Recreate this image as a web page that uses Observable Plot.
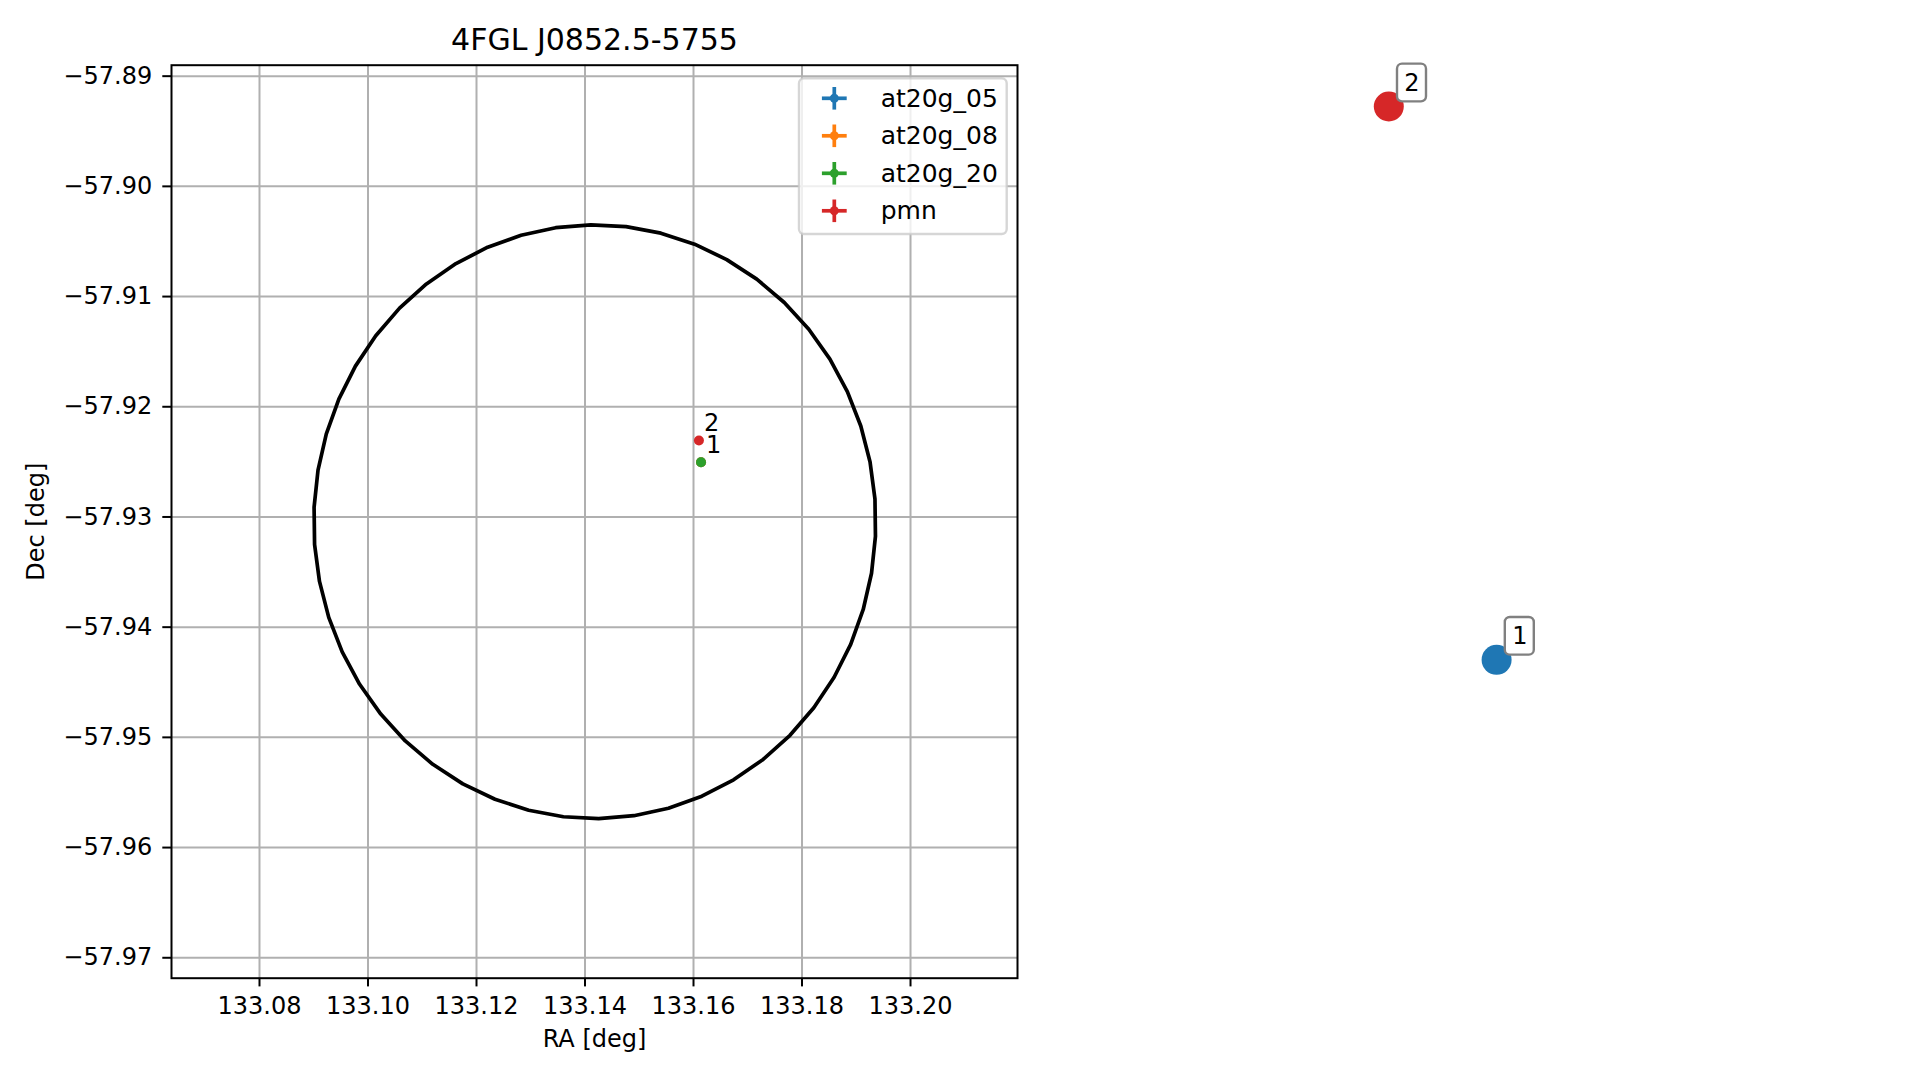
<!DOCTYPE html>
<html>
<head>
<meta charset="utf-8">
<script src="https://cdn.jsdelivr.net/npm/d3@7"></script>
<script src="https://cdn.jsdelivr.net/npm/@observablehq/plot@0.6"></script>
<style>
  html, body { margin: 0; padding: 0; background: #ffffff; }
  #wrap { position: relative; width: 1919px; height: 1080px; overflow: hidden; font-family: "DejaVu Sans", sans-serif; }
  #left { position: absolute; left: 0; top: 0; }
  #right { position: absolute; left: 1150px; top: 0; }
  #legend { position: absolute; left: 0; top: 0; pointer-events: none; }
  svg [aria-label="x-axis tick"], svg [aria-label="y-axis tick"] { stroke-width: 2px; }
  svg .tick line { stroke-width: 2px; }
</style>
</head>
<body>
<div id="wrap">
  <div id="left"></div>
  <div id="right"></div>
  <svg id="legend" width="1919" height="1080"></svg>
</div>
<script>
// ---- data ----
const title = "4FGL J0852.5-5755";
const xLabel = "RA [deg]";
const yLabel = "Dec [deg]";

const sources = ["at20g_05", "at20g_08", "at20g_20", "pmn"];
const sourceRA = [133.161385, 133.161385, 133.161385, 133.16100];
const sourceDec = [-57.925036, -57.925036, -57.925036, -57.92306];
const sourceColors = ["#1f77b4", "#ff7f0e", "#2ca02c", "#d62728"];

// counterpart labels (1 = AT20G source, 2 = PMN source)
const counterpartIds = ["1", "2"];
const counterpartSource = ["at20g_05", "pmn"];
const counterpartRA = [133.161385, 133.16100];
const counterpartDec = [-57.925036, -57.92306];

// 4FGL localisation ellipse: centre, semi-axes (deg), polygon segments
const ellipseCenter = [133.1418, -57.93043];
const ellipseRadii = [0.0518, 0.02694];
const ellipseSegments = 50;
const ellipsePhaseDeg = 4.4;

const xTicks = [133.08, 133.10, 133.12, 133.14, 133.16, 133.18, 133.20];
const yTicks = [-57.89, -57.90, -57.91, -57.92, -57.93, -57.94, -57.95, -57.96, -57.97];

// ---- tables built from the arrays ----
const points = sources.map((s, i) => ({source: s, ra: sourceRA[i], dec: sourceDec[i]}));
const labels = counterpartIds.map((id, i) => ({id, source: counterpartSource[i], ra: counterpartRA[i], dec: counterpartDec[i]}));
const ellipse = d3.range(ellipseSegments + 1).map(k => {
  const t = (ellipsePhaseDeg * Math.PI / 180) + 2 * Math.PI * k / ellipseSegments;
  return {ra: ellipseCenter[0] + ellipseRadii[0] * Math.cos(t), dec: ellipseCenter[1] + ellipseRadii[1] * Math.sin(t)};
});

const font = "DejaVu Sans";

const leftPlot = Plot.plot({
  width: 1100,
  height: 1080,
  marginLeft: 171,
  marginRight: 83,
  marginTop: 64.7,
  marginBottom: 102.3,
  style: {fontFamily: font, fontSize: "24px", background: "transparent", color: "black"},
  x: {domain: [133.06378, 133.21972], ticks: xTicks, tickFormat: ".2f", tickSize: 8.7, tickPadding: 10.2, label: null},
  y: {domain: [-57.971854, -57.889005], ticks: yTicks, tickFormat: ".2f", tickSize: 8.7, tickPadding: 10.6, label: null},
  color: {domain: sources, range: sourceColors},
  marks: [
    Plot.ruleX(xTicks, {stroke: "#b0b0b0", strokeWidth: 2}),
    Plot.ruleY(yTicks, {stroke: "#b0b0b0", strokeWidth: 2}),
    Plot.line(ellipse, {x: "ra", y: "dec", stroke: "black", strokeWidth: 3.7, strokeLinejoin: "round"}),
    Plot.dot(points, {x: "ra", y: "dec", r: 5, fill: "source"}),
    Plot.text(labels, {x: "ra", y: "dec", text: "id", textAnchor: "start", lineAnchor: "bottom", dx: 5, dy: -9.5, fontSize: 24, fill: "black"}),
    Plot.frame({stroke: "black", strokeWidth: 2}),
    Plot.text([title], {text: d => d, frameAnchor: "top", lineAnchor: "bottom", dy: -15.4, fontSize: 30, fill: "black"}),
    Plot.text([xLabel], {text: d => d, frameAnchor: "bottom", lineAnchor: "bottom", dy: 69, fontSize: 24, fill: "black"}),
    Plot.text([yLabel], {text: d => d, frameAnchor: "left", textAnchor: "middle", lineAnchor: "bottom", rotate: -90, dx: -128, fontSize: 24, fill: "black"})
  ]
});
document.getElementById("left").appendChild(leftPlot);

const rightPlot = Plot.plot({
  width: 600,
  height: 1080,
  marginLeft: 0,
  marginRight: 0,
  marginTop: 65,
  marginBottom: 103,
  style: {fontFamily: font, fontSize: "24px", background: "transparent", color: "black"},
  x: {domain: [133.16014893, 133.16229179], axis: null},
  y: {domain: [-57.92617071, -57.92291357], axis: null},
  color: {domain: sources, range: sourceColors},
  marks: [
    Plot.dot(labels, {x: "ra", y: "dec", r: 15, fill: "source"}),
    Plot.rect(labels, {x1: "ra", x2: "ra", y1: "dec", y2: "dec", insetLeft: 8.7, insetRight: -37.7, insetTop: -42.35, insetBottom: 4.65, rx: 5, fill: "white", stroke: "#808080", strokeWidth: 2.4}),
    Plot.text(labels, {x: "ra", y: "dec", text: "id", dx: 23.2, dy: -23.5, fontSize: 24, fill: "black"})
  ]
});
document.getElementById("right").appendChild(rightPlot);

// ---- legend (errorbar-style swatches) ----
const lg = d3.select("#legend");
const box = {x: 799, y: 78.3, w: 207.7, h: 155.7};
lg.append("rect").attr("x", box.x).attr("y", box.y).attr("width", box.w).attr("height", box.h)
  .attr("rx", 5).attr("fill", "white").attr("fill-opacity", 0.8)
  .attr("stroke", "#cccccc").attr("stroke-opacity", 0.8).attr("stroke-width", 2.4);
sources.forEach((s, i) => {
  const cy = 98.3 + 37.5 * i, cx = 834.3;
  const c = sourceColors[i];
  const g = lg.append("g");
  g.append("line").attr("x1", cx - 12.4).attr("x2", cx + 12.4).attr("y1", cy).attr("y2", cy).attr("stroke", c).attr("stroke-width", 3.7);
  g.append("line").attr("x1", cx).attr("x2", cx).attr("y1", cy - 11.3).attr("y2", cy + 11.3).attr("stroke", c).attr("stroke-width", 3.7);
  g.append("circle").attr("cx", cx).attr("cy", cy).attr("r", 4.5).attr("fill", c);
  g.append("text").attr("x", 880.7).attr("y", cy + 8.6).attr("font-family", font).attr("font-size", 25).attr("fill", "black").text(s);
});
</script>
</body>
</html>
